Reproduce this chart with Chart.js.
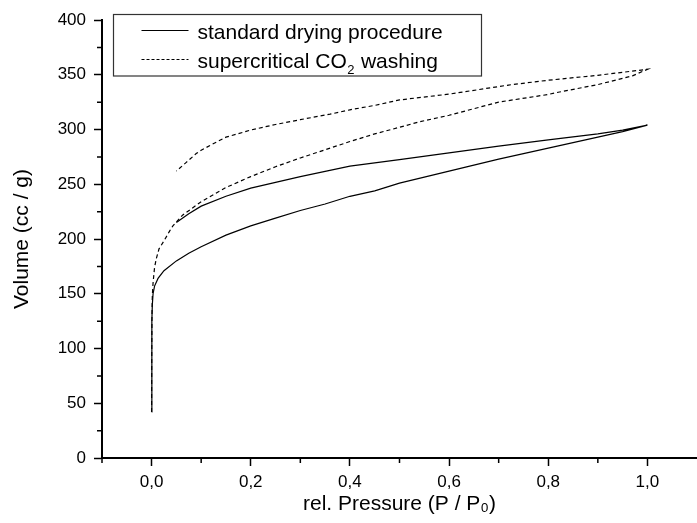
<!DOCTYPE html>
<html>
<head>
<meta charset="utf-8">
<script src="https://cdn.jsdelivr.net/npm/chart.js@4/dist/chart.umd.min.js"></script>
<style>
  html, body { margin: 0; padding: 0; background: #fff; overflow: hidden; }
  #c { display: block; }
</style>
</head>
<body>
<canvas id="c" width="697" height="523"></canvas>
<script>
// ---- data ----
const seriesNames = ['standard drying procedure', 'supercritical CO\u2082 washing'];

// standard drying: adsorption branch
const stdAdsP = [0, 0.0003, 0.0008, 0.0015, 0.003, 0.006, 0.013, 0.025, 0.05, 0.075, 0.1, 0.15, 0.2, 0.25, 0.3, 0.35, 0.4, 0.45, 0.5, 0.6, 0.7, 0.8, 0.9, 0.95, 1.0];
const stdAdsV = [42, 90, 125, 140, 150, 157, 164, 171, 180, 187, 193, 203.5, 212, 219, 226, 232, 239, 244, 251, 262, 273, 283, 293, 298, 304];
// standard drying: desorption branch
const stdDesP = [1.0, 0.95, 0.9, 0.8, 0.7, 0.6, 0.5, 0.4, 0.3, 0.2, 0.15, 0.1, 0.075, 0.05];
const stdDesV = [304, 299.5, 296, 290.5, 284.8, 278.7, 272.5, 266.5, 257, 246.5, 239, 230, 223, 215];

// supercritical CO2: adsorption branch
const scAdsP = [0, 0.0003, 0.0008, 0.0015, 0.003, 0.006, 0.0095, 0.015, 0.026, 0.036, 0.043, 0.063, 0.1, 0.15, 0.2, 0.25, 0.3, 0.36, 0.4, 0.45, 0.5, 0.54, 0.6, 0.7, 0.8, 0.82, 0.9, 0.97, 1.0];
const scAdsV = [42, 95, 130, 148, 160, 174, 182, 191, 199, 207, 212, 222, 234, 247, 257, 266, 274, 283, 289, 296, 302, 307, 313, 325, 332, 334, 341, 349, 355];
// supercritical CO2: desorption branch
const scDesP = [1.0, 0.9, 0.8, 0.72, 0.6, 0.5, 0.45, 0.4, 0.36, 0.3, 0.25, 0.2, 0.15, 0.12, 0.1, 0.09, 0.07, 0.05];
const scDesV = [355, 349.5, 345, 340.6, 332.3, 327, 322, 318, 314, 309, 304.6, 299.5, 293, 286, 281, 278, 270, 262];

// axes
const xMajorTicks = [0, 0.2, 0.4, 0.6, 0.8, 1.0];
const xTickLabels = ['0,0', '0,2', '0,4', '0,6', '0,8', '1,0'];
const xMinorTicks = [-0.1, 0.1, 0.3, 0.5, 0.7, 0.9];
const yMajorTicks = [0, 50, 100, 150, 200, 250, 300, 350, 400];
const yTickLabels = ['0', '50', '100', '150', '200', '250', '300', '350', '400'];
const yMinorTicks = [25, 75, 125, 175, 225, 275, 325, 375];

const xTitle = 'rel. Pressure (P / P\u2080)';
const yTitle = 'Volume (cc / g)';

// ---- build chart ----
function toPts(px, vy) { return px.map((p, i) => ({ x: p, y: vy[i] })); }
const FONT = '"Liberation Sans", Arial, Helvetica, sans-serif';

function isMajor(list, v) { return list.some(m => Math.abs(m - v) < 1e-6); }
function labelFor(list, labels, v) {
  const i = list.findIndex(m => Math.abs(m - v) < 1e-6);
  return i >= 0 ? labels[i] : '';
}

// draws a label, rendering unicode subscript digits as small lowered digits
function drawLabel(ctx, text, x, y, size) {
  const subs = '\u2080\u2081\u2082\u2083\u2084\u2085\u2086\u2087\u2088\u2089';
  let cx = x;
  let buf = '';
  const flush = () => {
    if (!buf) return;
    ctx.font = size + 'px ' + FONT;
    ctx.fillText(buf, cx, y);
    cx += ctx.measureText(buf).width;
    buf = '';
  };
  for (const ch of text) {
    const k = subs.indexOf(ch);
    if (k >= 0) {
      flush();
      const s = String(k);
      ctx.font = Math.round(size * 0.62) + 'px ' + FONT;
      ctx.fillText(s, cx + 0.5, y + size * 0.3);
      cx += ctx.measureText(s).width + 1;
    } else {
      buf += ch;
    }
  }
  flush();
}

const decor = {
  id: 'decor',
  afterDraw(chart) {
    const ctx = chart.ctx;
    const xs = chart.scales.x, ys = chart.scales.y;
    const ca = chart.chartArea;
    ctx.save();
    // minor ticks
    ctx.strokeStyle = '#000';
    ctx.lineWidth = 1.5;
    ctx.beginPath();
    xMinorTicks.forEach(v => {
      const px = xs.getPixelForValue(v);
      ctx.moveTo(px, ca.bottom);
      ctx.lineTo(px, ca.bottom + 5);
    });
    yMinorTicks.forEach(v => {
      const py = ys.getPixelForValue(v);
      ctx.moveTo(ca.left, py);
      ctx.lineTo(ca.left - 5, py);
    });
    ctx.stroke();

    // legend box
    const bx = ca.left + 11.5, by = ca.top - 5.5, bw = 368, bh = 61.5;
    ctx.fillStyle = '#fff';
    ctx.fillRect(bx, by, bw, bh);
    ctx.strokeStyle = '#333';
    ctx.lineWidth = 1.2;
    ctx.strokeRect(bx, by, bw, bh);

    const rows = [by + 16, by + 45];
    ctx.textBaseline = 'alphabetic';
    ctx.textAlign = 'left';
    chart.data.datasets.forEach((ds, i) => {
      const ly = rows[i];
      ctx.beginPath();
      ctx.strokeStyle = '#000';
      ctx.lineWidth = 1.1;
      ctx.setLineDash(i === 0 ? [] : [3, 2]);
      ctx.moveTo(bx + 28, ly);
      ctx.lineTo(bx + 75, ly);
      ctx.stroke();
      ctx.setLineDash([]);
      ctx.fillStyle = '#000';
      drawLabel(ctx, ds.label, bx + 84, ly + 8, 21);
    });
    ctx.restore();
  }
};

const chart = new Chart(document.getElementById('c'), {
  type: 'scatter',
  data: {
    datasets: [
      {
        label: seriesNames[0],
        data: toPts(stdAdsP, stdAdsV).concat(toPts(stdDesP, stdDesV)),
        showLine: true,
        borderColor: '#000',
        borderWidth: 1.2,
        pointRadius: 0,
        tension: 0,
        fill: false
      },
      {
        label: seriesNames[1],
        data: toPts(scAdsP, scAdsV).concat(toPts(scDesP, scDesV)),
        showLine: true,
        borderColor: '#000',
        borderWidth: 1.2,
        borderDash: [4, 3],
        pointRadius: 0,
        tension: 0,
        fill: false
      }
    ]
  },
  options: {
    responsive: false,
    animation: false,
    devicePixelRatio: 1,
    layout: { padding: { top: 20, right: 0, bottom: 0, left: 0 } },
    plugins: { legend: { display: false }, tooltip: { enabled: false } },
    scales: {
      x: {
        type: 'linear',
        min: -0.1,
        max: 1.1,
        afterBuildTicks: s => { s.ticks = xMajorTicks.concat(xMinorTicks).sort((a, b) => a - b).map(v => ({ value: v })); },
        afterFit: s => { s.height = 65; },
        border: { display: true, color: '#000', width: 2 },
        grid: {
          display: true,
          drawOnChartArea: false,
          drawTicks: true,
          tickLength: 8,
          tickWidth: 1.5,
          tickColor: c => (c.tick && isMajor(xMajorTicks, c.tick.value)) ? '#000' : 'rgba(0,0,0,0)'
        },
        ticks: {
          autoSkip: false,
          maxRotation: 0,
          padding: 6,
          color: '#000',
          font: { family: FONT, size: 17 },
          callback: v => labelFor(xMajorTicks, xTickLabels, v)
        },
        title: {
          display: true,
          text: xTitle,
          color: '#000',
          font: { family: FONT, size: 21 },
          padding: { top: 0, bottom: 6 }
        }
      },
      y: {
        type: 'linear',
        min: 0,
        max: 400,
        afterBuildTicks: s => { s.ticks = yMajorTicks.concat(yMinorTicks).sort((a, b) => a - b).map(v => ({ value: v })); },
        afterFit: s => { s.width = 102; },
        border: { display: true, color: '#000', width: 2 },
        grid: {
          display: true,
          drawOnChartArea: false,
          drawTicks: true,
          tickLength: 8,
          tickWidth: 1.5,
          tickColor: c => (c.tick && isMajor(yMajorTicks, c.tick.value)) ? '#000' : 'rgba(0,0,0,0)'
        },
        ticks: {
          autoSkip: false,
          padding: 8,
          color: '#000',
          font: { family: FONT, size: 17 },
          callback: v => labelFor(yMajorTicks, yTickLabels, v)
        },
        title: {
          display: true,
          text: yTitle,
          color: '#000',
          font: { family: FONT, size: 21 },
          padding: { top: 10, bottom: 0 }
        }
      }
    }
  },
  plugins: [decor]
});
</script>
</body>
</html>
